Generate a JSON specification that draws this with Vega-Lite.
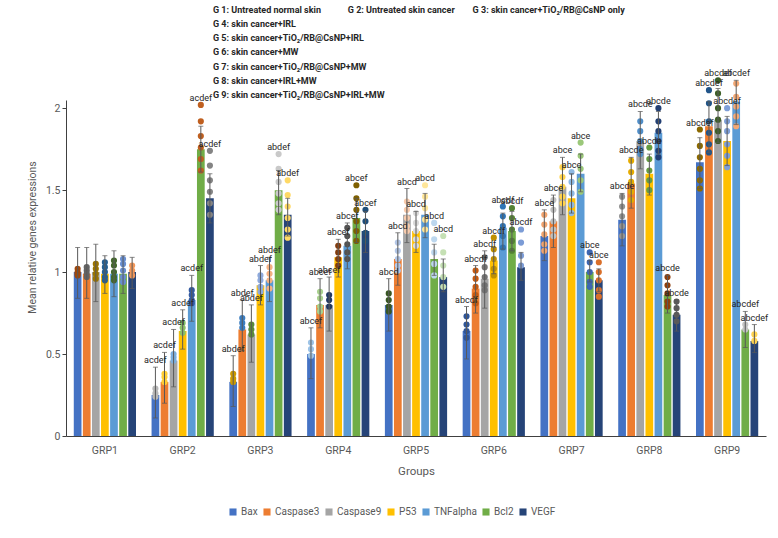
{
  "$schema": "https://vega.github.io/schema/vega-lite/v6.json",
  "autosize": {"type": "none"},
  "width": 700,
  "height": 336,
  "padding": {"left": 66, "top": 100, "right": 12, "bottom": 102},
  "background": "white",
  "title": {
    "text": [
      "G 1: Untreated normal skin\u00a0\u00a0\u00a0\u00a0\u00a0\u00a0\u00a0\u00a0\u00a0\u00a0\u00a0\u00a0G 2: Untreated skin cancer\u00a0\u00a0\u00a0\u00a0\u00a0\u00a0\u00a0\u00a0G 3: skin cancer+TiO₂/RB@CsNP only",
      "G 4: skin cancer+IRL",
      "G 5: skin cancer+TiO₂/RB@CsNP+IRL",
      "G 6: skin cancer+MW",
      "G 7: skin cancer+TiO₂/RB@CsNP+MW",
      "G 8: skin cancer+IRL+MW",
      "G 9: skin cancer+TiO₂/RB@CsNP+IRL+MW"
    ],
    "anchor": "start",
    "frame": "group",
    "dx": 147,
    "offset": -31,
    "lineHeight": 14.3,
    "font": "Roboto",
    "fontSize": 9,
    "fontWeight": "bold",
    "color": "#262626"
  },
  "config": {
    "view": {"stroke": null},
    "font": "Roboto"
  },
  "data": {
    "values": [
      {"g":"GRP1","k":"Bax","mean":1.00,"lo":0.84,"hi":1.15,"sig":""},
      {"g":"GRP1","k":"Caspase3","mean":0.99,"lo":0.84,"hi":1.15,"sig":""},
      {"g":"GRP1","k":"Caspase9","mean":1.00,"lo":0.82,"hi":1.17,"sig":""},
      {"g":"GRP1","k":"P53","mean":0.99,"lo":0.87,"hi":1.10,"sig":""},
      {"g":"GRP1","k":"TNFalpha","mean":0.99,"lo":0.85,"hi":1.13,"sig":""},
      {"g":"GRP1","k":"Bcl2","mean":0.99,"lo":0.87,"hi":1.10,"sig":""},
      {"g":"GRP1","k":"VEGF","mean":1.00,"lo":0.90,"hi":1.09,"sig":""},
      {"g":"GRP2","k":"Bax","mean":0.25,"lo":0.11,"hi":0.42,"sig":"acdef"},
      {"g":"GRP2","k":"Caspase3","mean":0.33,"lo":0.20,"hi":0.51,"sig":"acdef"},
      {"g":"GRP2","k":"Caspase9","mean":0.46,"lo":0.30,"hi":0.65,"sig":"acdef"},
      {"g":"GRP2","k":"P53","mean":0.64,"lo":0.53,"hi":0.77,"sig":"acdef"},
      {"g":"GRP2","k":"TNFalpha","mean":0.83,"lo":0.70,"hi":0.98,"sig":"acdef"},
      {"g":"GRP2","k":"Bcl2","mean":1.75,"lo":1.61,"hi":1.89,"sig":"acdef"},
      {"g":"GRP2","k":"VEGF","mean":1.45,"lo":1.30,"hi":1.60,"sig":"acdef"},
      {"g":"GRP3","k":"Bax","mean":0.33,"lo":0.18,"hi":0.49,"sig":"abdef"},
      {"g":"GRP3","k":"Caspase3","mean":0.65,"lo":0.52,"hi":0.83,"sig":"abdef"},
      {"g":"GRP3","k":"Caspase9","mean":0.62,"lo":0.45,"hi":0.80,"sig":"abdef"},
      {"g":"GRP3","k":"P53","mean":0.92,"lo":0.80,"hi":1.04,"sig":"abdef"},
      {"g":"GRP3","k":"TNFalpha","mean":0.95,"lo":0.82,"hi":1.09,"sig":"abdef"},
      {"g":"GRP3","k":"Bcl2","mean":1.50,"lo":1.35,"hi":1.62,"sig":"abdef"},
      {"g":"GRP3","k":"VEGF","mean":1.35,"lo":1.22,"hi":1.45,"sig":"abdef"},
      {"g":"GRP4","k":"Bax","mean":0.50,"lo":0.35,"hi":0.66,"sig":"abcef"},
      {"g":"GRP4","k":"Caspase3","mean":0.80,"lo":0.66,"hi":0.96,"sig":"abcef"},
      {"g":"GRP4","k":"Caspase9","mean":0.80,"lo":0.64,"hi":0.97,"sig":"abcef"},
      {"g":"GRP4","k":"P53","mean":1.09,"lo":0.97,"hi":1.20,"sig":"abcef"},
      {"g":"GRP4","k":"TNFalpha","mean":1.16,"lo":1.02,"hi":1.30,"sig":"abcef"},
      {"g":"GRP4","k":"Bcl2","mean":1.33,"lo":1.18,"hi":1.45,"sig":"abcef"},
      {"g":"GRP4","k":"VEGF","mean":1.25,"lo":1.12,"hi":1.37,"sig":"abcef"},
      {"g":"GRP5","k":"Bax","mean":0.80,"lo":0.64,"hi":0.96,"sig":"abcd"},
      {"g":"GRP5","k":"Caspase3","mean":1.08,"lo":0.92,"hi":1.24,"sig":"abcd"},
      {"g":"GRP5","k":"Caspase9","mean":1.35,"lo":1.18,"hi":1.51,"sig":"abcd"},
      {"g":"GRP5","k":"P53","mean":1.25,"lo":1.12,"hi":1.37,"sig":"abcd"},
      {"g":"GRP5","k":"TNFalpha","mean":1.35,"lo":1.21,"hi":1.48,"sig":"abcd"},
      {"g":"GRP5","k":"Bcl2","mean":1.08,"lo":0.98,"hi":1.17,"sig":"abcd"},
      {"g":"GRP5","k":"VEGF","mean":0.97,"lo":0.88,"hi":1.08,"sig":"abcd"},
      {"g":"GRP6","k":"Bax","mean":0.64,"lo":0.47,"hi":0.79,"sig":"abcdf"},
      {"g":"GRP6","k":"Caspase3","mean":0.90,"lo":0.75,"hi":1.04,"sig":"abcdf"},
      {"g":"GRP6","k":"Caspase9","mean":0.96,"lo":0.78,"hi":1.13,"sig":"abcdf"},
      {"g":"GRP6","k":"P53","mean":1.07,"lo":0.99,"hi":1.15,"sig":"abcdf"},
      {"g":"GRP6","k":"TNFalpha","mean":1.27,"lo":1.14,"hi":1.36,"sig":"abcdf"},
      {"g":"GRP6","k":"Bcl2","mean":1.25,"lo":1.13,"hi":1.37,"sig":"abcdf"},
      {"g":"GRP6","k":"VEGF","mean":1.03,"lo":0.95,"hi":1.12,"sig":"abcdf"},
      {"g":"GRP7","k":"Bax","mean":1.22,"lo":1.07,"hi":1.38,"sig":"abce"},
      {"g":"GRP7","k":"Caspase3","mean":1.31,"lo":1.15,"hi":1.47,"sig":"abce"},
      {"g":"GRP7","k":"Caspase9","mean":1.52,"lo":1.35,"hi":1.70,"sig":"abce"},
      {"g":"GRP7","k":"P53","mean":1.45,"lo":1.36,"hi":1.60,"sig":"abce"},
      {"g":"GRP7","k":"TNFalpha","mean":1.60,"lo":1.49,"hi":1.72,"sig":"abce"},
      {"g":"GRP7","k":"Bcl2","mean":1.00,"lo":0.94,"hi":1.07,"sig":"abce"},
      {"g":"GRP7","k":"VEGF","mean":0.95,"lo":0.88,"hi":1.02,"sig":"abce"},
      {"g":"GRP8","k":"Bax","mean":1.32,"lo":1.16,"hi":1.48,"sig":"abcde"},
      {"g":"GRP8","k":"Caspase3","mean":1.54,"lo":1.39,"hi":1.70,"sig":"abcde"},
      {"g":"GRP8","k":"Caspase9","mean":1.80,"lo":1.63,"hi":1.98,"sig":"abcde"},
      {"g":"GRP8","k":"P53","mean":1.60,"lo":1.47,"hi":1.72,"sig":"abcde"},
      {"g":"GRP8","k":"TNFalpha","mean":1.85,"lo":1.72,"hi":1.98,"sig":"abcde"},
      {"g":"GRP8","k":"Bcl2","mean":0.86,"lo":0.75,"hi":0.98,"sig":"abcde"},
      {"g":"GRP8","k":"VEGF","mean":0.74,"lo":0.64,"hi":0.83,"sig":"abcde"},
      {"g":"GRP9","k":"Bax","mean":1.67,"lo":1.51,"hi":1.82,"sig":"abcdef"},
      {"g":"GRP9","k":"Caspase3","mean":1.89,"lo":1.73,"hi":2.04,"sig":"abcdef"},
      {"g":"GRP9","k":"Caspase9","mean":1.93,"lo":1.79,"hi":2.12,"sig":"abcdef"},
      {"g":"GRP9","k":"P53","mean":1.80,"lo":1.65,"hi":1.95,"sig":"abcdef"},
      {"g":"GRP9","k":"TNFalpha","mean":2.04,"lo":1.90,"hi":2.17,"sig":"abcdef"},
      {"g":"GRP9","k":"Bcl2","mean":0.65,"lo":0.54,"hi":0.76,"sig":"abcdef"},
      {"g":"GRP9","k":"VEGF","mean":0.58,"lo":0.51,"hi":0.68,"sig":"abcdef"},

      {"g":"GRP1","k":"Bax","v":1.02},{"g":"GRP1","k":"Bax","v":1.00},{"g":"GRP1","k":"Bax","v":0.99},{"g":"GRP1","k":"Bax","v":0.98},
      {"g":"GRP1","k":"Caspase3","v":1.03},{"g":"GRP1","k":"Caspase3","v":1.01},{"g":"GRP1","k":"Caspase3","v":0.99},{"g":"GRP1","k":"Caspase3","v":0.97},
      {"g":"GRP1","k":"Caspase9","v":1.05},{"g":"GRP1","k":"Caspase9","v":1.02},{"g":"GRP1","k":"Caspase9","v":0.99},{"g":"GRP1","k":"Caspase9","v":0.96},
      {"g":"GRP1","k":"P53","v":1.06},{"g":"GRP1","k":"P53","v":1.03},{"g":"GRP1","k":"P53","v":1.00},{"g":"GRP1","k":"P53","v":0.97},{"g":"GRP1","k":"P53","v":0.95},
      {"g":"GRP1","k":"TNFalpha","v":1.07},{"g":"GRP1","k":"TNFalpha","v":1.04},{"g":"GRP1","k":"TNFalpha","v":1.00},{"g":"GRP1","k":"TNFalpha","v":0.97},{"g":"GRP1","k":"TNFalpha","v":0.95},
      {"g":"GRP1","k":"Bcl2","v":1.08},{"g":"GRP1","k":"Bcl2","v":1.05},{"g":"GRP1","k":"Bcl2","v":1.01},{"g":"GRP1","k":"Bcl2","v":0.97},{"g":"GRP1","k":"Bcl2","v":0.94},
      {"g":"GRP1","k":"VEGF","v":1.04},{"g":"GRP1","k":"VEGF","v":1.01},{"g":"GRP1","k":"VEGF","v":0.98},

      {"g":"GRP2","k":"Bax","v":0.29},{"g":"GRP2","k":"Bax","v":0.26},{"g":"GRP2","k":"Bax","v":0.24},
      {"g":"GRP2","k":"Caspase3","v":0.38},{"g":"GRP2","k":"Caspase3","v":0.36},{"g":"GRP2","k":"Caspase3","v":0.33},
      {"g":"GRP2","k":"Caspase9","v":0.50},{"g":"GRP2","k":"Caspase9","v":0.48},{"g":"GRP2","k":"Caspase9","v":0.46},
      {"g":"GRP2","k":"P53","v":0.69},{"g":"GRP2","k":"P53","v":0.66},{"g":"GRP2","k":"P53","v":0.63},
      {"g":"GRP2","k":"TNFalpha","v":0.89},{"g":"GRP2","k":"TNFalpha","v":0.86},{"g":"GRP2","k":"TNFalpha","v":0.83},{"g":"GRP2","k":"TNFalpha","v":0.81},
      {"g":"GRP2","k":"Bcl2","v":2.02},{"g":"GRP2","k":"Bcl2","v":1.92},{"g":"GRP2","k":"Bcl2","v":1.83},{"g":"GRP2","k":"Bcl2","v":1.76},{"g":"GRP2","k":"Bcl2","v":1.69},{"g":"GRP2","k":"Bcl2","v":1.62},
      {"g":"GRP2","k":"VEGF","v":1.74},{"g":"GRP2","k":"VEGF","v":1.65},{"g":"GRP2","k":"VEGF","v":1.56},{"g":"GRP2","k":"VEGF","v":1.49},{"g":"GRP2","k":"VEGF","v":1.42},{"g":"GRP2","k":"VEGF","v":1.35},

      {"g":"GRP3","k":"Bax","v":0.38},{"g":"GRP3","k":"Bax","v":0.35},{"g":"GRP3","k":"Bax","v":0.33},
      {"g":"GRP3","k":"Caspase3","v":0.72},{"g":"GRP3","k":"Caspase3","v":0.69},{"g":"GRP3","k":"Caspase3","v":0.66},
      {"g":"GRP3","k":"Caspase9","v":0.68},{"g":"GRP3","k":"Caspase9","v":0.65},{"g":"GRP3","k":"Caspase9","v":0.62},
      {"g":"GRP3","k":"P53","v":0.98},{"g":"GRP3","k":"P53","v":0.95},{"g":"GRP3","k":"P53","v":0.91},{"g":"GRP3","k":"P53","v":0.88},
      {"g":"GRP3","k":"TNFalpha","v":1.03},{"g":"GRP3","k":"TNFalpha","v":0.99},{"g":"GRP3","k":"TNFalpha","v":0.95},{"g":"GRP3","k":"TNFalpha","v":0.90},
      {"g":"GRP3","k":"Bcl2","v":1.72},{"g":"GRP3","k":"Bcl2","v":1.63},{"g":"GRP3","k":"Bcl2","v":1.55},{"g":"GRP3","k":"Bcl2","v":1.48},{"g":"GRP3","k":"Bcl2","v":1.42},{"g":"GRP3","k":"Bcl2","v":1.38},
      {"g":"GRP3","k":"VEGF","v":1.56},{"g":"GRP3","k":"VEGF","v":1.47},{"g":"GRP3","k":"VEGF","v":1.40},{"g":"GRP3","k":"VEGF","v":1.33},{"g":"GRP3","k":"VEGF","v":1.26},{"g":"GRP3","k":"VEGF","v":1.21},

      {"g":"GRP4","k":"Bax","v":0.57},{"g":"GRP4","k":"Bax","v":0.53},{"g":"GRP4","k":"Bax","v":0.49},
      {"g":"GRP4","k":"Caspase3","v":0.88},{"g":"GRP4","k":"Caspase3","v":0.84},{"g":"GRP4","k":"Caspase3","v":0.79},{"g":"GRP4","k":"Caspase3","v":0.76},
      {"g":"GRP4","k":"Caspase9","v":0.86},{"g":"GRP4","k":"Caspase9","v":0.83},{"g":"GRP4","k":"Caspase9","v":0.79},
      {"g":"GRP4","k":"P53","v":1.16},{"g":"GRP4","k":"P53","v":1.12},{"g":"GRP4","k":"P53","v":1.08},{"g":"GRP4","k":"P53","v":1.04},
      {"g":"GRP4","k":"TNFalpha","v":1.27},{"g":"GRP4","k":"TNFalpha","v":1.22},{"g":"GRP4","k":"TNFalpha","v":1.17},{"g":"GRP4","k":"TNFalpha","v":1.12},{"g":"GRP4","k":"TNFalpha","v":1.08},
      {"g":"GRP4","k":"Bcl2","v":1.53},{"g":"GRP4","k":"Bcl2","v":1.45},{"g":"GRP4","k":"Bcl2","v":1.38},{"g":"GRP4","k":"Bcl2","v":1.31},{"g":"GRP4","k":"Bcl2","v":1.25},{"g":"GRP4","k":"Bcl2","v":1.19},
      {"g":"GRP4","k":"VEGF","v":1.38},{"g":"GRP4","k":"VEGF","v":1.31},{"g":"GRP4","k":"VEGF","v":1.24},{"g":"GRP4","k":"VEGF","v":1.19},

      {"g":"GRP5","k":"Bax","v":0.87},{"g":"GRP5","k":"Bax","v":0.83},{"g":"GRP5","k":"Bax","v":0.79},{"g":"GRP5","k":"Bax","v":0.76},
      {"g":"GRP5","k":"Caspase3","v":1.18},{"g":"GRP5","k":"Caspase3","v":1.13},{"g":"GRP5","k":"Caspase3","v":1.08},{"g":"GRP5","k":"Caspase3","v":1.04},{"g":"GRP5","k":"Caspase3","v":1.01},
      {"g":"GRP5","k":"Caspase9","v":1.43},{"g":"GRP5","k":"Caspase9","v":1.38},{"g":"GRP5","k":"Caspase9","v":1.33},{"g":"GRP5","k":"Caspase9","v":1.28},{"g":"GRP5","k":"Caspase9","v":1.25},
      {"g":"GRP5","k":"P53","v":1.36},{"g":"GRP5","k":"P53","v":1.30},{"g":"GRP5","k":"P53","v":1.25},{"g":"GRP5","k":"P53","v":1.20},{"g":"GRP5","k":"P53","v":1.16},
      {"g":"GRP5","k":"TNFalpha","v":1.53},{"g":"GRP5","k":"TNFalpha","v":1.46},{"g":"GRP5","k":"TNFalpha","v":1.39},{"g":"GRP5","k":"TNFalpha","v":1.32},{"g":"GRP5","k":"TNFalpha","v":1.26},
      {"g":"GRP5","k":"Bcl2","v":1.30},{"g":"GRP5","k":"Bcl2","v":1.20},{"g":"GRP5","k":"Bcl2","v":1.12},{"g":"GRP5","k":"Bcl2","v":1.05},{"g":"GRP5","k":"Bcl2","v":0.98},
      {"g":"GRP5","k":"VEGF","v":1.22},{"g":"GRP5","k":"VEGF","v":1.12},{"g":"GRP5","k":"VEGF","v":1.04},{"g":"GRP5","k":"VEGF","v":0.97},{"g":"GRP5","k":"VEGF","v":0.91},

      {"g":"GRP6","k":"Bax","v":0.73},{"g":"GRP6","k":"Bax","v":0.68},{"g":"GRP6","k":"Bax","v":0.64},{"g":"GRP6","k":"Bax","v":0.60},
      {"g":"GRP6","k":"Caspase3","v":1.01},{"g":"GRP6","k":"Caspase3","v":0.96},{"g":"GRP6","k":"Caspase3","v":0.91},{"g":"GRP6","k":"Caspase3","v":0.86},{"g":"GRP6","k":"Caspase3","v":0.81},
      {"g":"GRP6","k":"Caspase9","v":1.09},{"g":"GRP6","k":"Caspase9","v":1.03},{"g":"GRP6","k":"Caspase9","v":0.97},{"g":"GRP6","k":"Caspase9","v":0.92},{"g":"GRP6","k":"Caspase9","v":0.89},
      {"g":"GRP6","k":"P53","v":1.21},{"g":"GRP6","k":"P53","v":1.14},{"g":"GRP6","k":"P53","v":1.08},{"g":"GRP6","k":"P53","v":1.02},{"g":"GRP6","k":"P53","v":0.98},
      {"g":"GRP6","k":"TNFalpha","v":1.40},{"g":"GRP6","k":"TNFalpha","v":1.34},{"g":"GRP6","k":"TNFalpha","v":1.28},{"g":"GRP6","k":"TNFalpha","v":1.22},{"g":"GRP6","k":"TNFalpha","v":1.15},
      {"g":"GRP6","k":"Bcl2","v":1.39},{"g":"GRP6","k":"Bcl2","v":1.33},{"g":"GRP6","k":"Bcl2","v":1.26},{"g":"GRP6","k":"Bcl2","v":1.19},{"g":"GRP6","k":"Bcl2","v":1.13},
      {"g":"GRP6","k":"VEGF","v":1.26},{"g":"GRP6","k":"VEGF","v":1.18},{"g":"GRP6","k":"VEGF","v":1.10},{"g":"GRP6","k":"VEGF","v":1.04},

      {"g":"GRP7","k":"Bax","v":1.35},{"g":"GRP7","k":"Bax","v":1.29},{"g":"GRP7","k":"Bax","v":1.23},{"g":"GRP7","k":"Bax","v":1.17},{"g":"GRP7","k":"Bax","v":1.13},
      {"g":"GRP7","k":"Caspase3","v":1.44},{"g":"GRP7","k":"Caspase3","v":1.38},{"g":"GRP7","k":"Caspase3","v":1.31},{"g":"GRP7","k":"Caspase3","v":1.26},{"g":"GRP7","k":"Caspase3","v":1.22},
      {"g":"GRP7","k":"Caspase9","v":1.64},{"g":"GRP7","k":"Caspase9","v":1.58},{"g":"GRP7","k":"Caspase9","v":1.52},{"g":"GRP7","k":"Caspase9","v":1.46},{"g":"GRP7","k":"Caspase9","v":1.42},
      {"g":"GRP7","k":"P53","v":1.61},{"g":"GRP7","k":"P53","v":1.55},{"g":"GRP7","k":"P53","v":1.48},{"g":"GRP7","k":"P53","v":1.41},{"g":"GRP7","k":"P53","v":1.36},
      {"g":"GRP7","k":"TNFalpha","v":1.79},{"g":"GRP7","k":"TNFalpha","v":1.71},{"g":"GRP7","k":"TNFalpha","v":1.63},{"g":"GRP7","k":"TNFalpha","v":1.56},{"g":"GRP7","k":"TNFalpha","v":1.49},
      {"g":"GRP7","k":"Bcl2","v":1.12},{"g":"GRP7","k":"Bcl2","v":1.06},{"g":"GRP7","k":"Bcl2","v":1.00},{"g":"GRP7","k":"Bcl2","v":0.94},{"g":"GRP7","k":"Bcl2","v":0.91},
      {"g":"GRP7","k":"VEGF","v":1.06},{"g":"GRP7","k":"VEGF","v":1.00},{"g":"GRP7","k":"VEGF","v":0.95},{"g":"GRP7","k":"VEGF","v":0.89},{"g":"GRP7","k":"VEGF","v":0.85},

      {"g":"GRP8","k":"Bax","v":1.46},{"g":"GRP8","k":"Bax","v":1.40},{"g":"GRP8","k":"Bax","v":1.34},{"g":"GRP8","k":"Bax","v":1.28},{"g":"GRP8","k":"Bax","v":1.22},
      {"g":"GRP8","k":"Caspase3","v":1.68},{"g":"GRP8","k":"Caspase3","v":1.61},{"g":"GRP8","k":"Caspase3","v":1.55},{"g":"GRP8","k":"Caspase3","v":1.49},{"g":"GRP8","k":"Caspase3","v":1.44},
      {"g":"GRP8","k":"Caspase9","v":1.92},{"g":"GRP8","k":"Caspase9","v":1.86},{"g":"GRP8","k":"Caspase9","v":1.80},{"g":"GRP8","k":"Caspase9","v":1.75},{"g":"GRP8","k":"Caspase9","v":1.72},
      {"g":"GRP8","k":"P53","v":1.76},{"g":"GRP8","k":"P53","v":1.69},{"g":"GRP8","k":"P53","v":1.62},{"g":"GRP8","k":"P53","v":1.56},{"g":"GRP8","k":"P53","v":1.50},
      {"g":"GRP8","k":"TNFalpha","v":2.00},{"g":"GRP8","k":"TNFalpha","v":1.92},{"g":"GRP8","k":"TNFalpha","v":1.86},{"g":"GRP8","k":"TNFalpha","v":1.80},{"g":"GRP8","k":"TNFalpha","v":1.74},{"g":"GRP8","k":"TNFalpha","v":1.70},
      {"g":"GRP8","k":"Bcl2","v":0.97},{"g":"GRP8","k":"Bcl2","v":0.92},{"g":"GRP8","k":"Bcl2","v":0.87},{"g":"GRP8","k":"Bcl2","v":0.82},{"g":"GRP8","k":"Bcl2","v":0.79},
      {"g":"GRP8","k":"VEGF","v":0.82},{"g":"GRP8","k":"VEGF","v":0.78},{"g":"GRP8","k":"VEGF","v":0.74},{"g":"GRP8","k":"VEGF","v":0.70},

      {"g":"GRP9","k":"Bax","v":1.87},{"g":"GRP9","k":"Bax","v":1.77},{"g":"GRP9","k":"Bax","v":1.70},{"g":"GRP9","k":"Bax","v":1.63},{"g":"GRP9","k":"Bax","v":1.56},{"g":"GRP9","k":"Bax","v":1.51},
      {"g":"GRP9","k":"Caspase3","v":2.11},{"g":"GRP9","k":"Caspase3","v":2.03},{"g":"GRP9","k":"Caspase3","v":1.92},{"g":"GRP9","k":"Caspase3","v":1.85},{"g":"GRP9","k":"Caspase3","v":1.78},{"g":"GRP9","k":"Caspase3","v":1.73},
      {"g":"GRP9","k":"Caspase9","v":2.17},{"g":"GRP9","k":"Caspase9","v":2.09},{"g":"GRP9","k":"Caspase9","v":2.00},{"g":"GRP9","k":"Caspase9","v":1.93},{"g":"GRP9","k":"Caspase9","v":1.86},{"g":"GRP9","k":"Caspase9","v":1.80},
      {"g":"GRP9","k":"P53","v":2.00},{"g":"GRP9","k":"P53","v":1.92},{"g":"GRP9","k":"P53","v":1.86},{"g":"GRP9","k":"P53","v":1.78},{"g":"GRP9","k":"P53","v":1.71},{"g":"GRP9","k":"P53","v":1.64},
      {"g":"GRP9","k":"TNFalpha","v":2.15},{"g":"GRP9","k":"TNFalpha","v":2.07},{"g":"GRP9","k":"TNFalpha","v":2.01},{"g":"GRP9","k":"TNFalpha","v":1.95},{"g":"GRP9","k":"TNFalpha","v":1.89},
      {"g":"GRP9","k":"Bcl2","v":0.68},{"g":"GRP9","k":"Bcl2","v":0.65},
      {"g":"GRP9","k":"VEGF","v":0.62},{"g":"GRP9","k":"VEGF","v":0.58}
    ]
  },
  "encoding": {
    "x": {
      "field": "g",
      "type": "nominal",
      "title": "Groups",
      "scale": {"paddingInner": 0.2, "paddingOuter": 0.1},
      "axis": {
        "labelAngle": 0,
        "labelFont": "Roboto",
        "labelFontSize": 10.5,
        "labelColor": "#595959",
        "labelPadding": 9,
        "ticks": false,
        "domainColor": "#404040",
        "titleFont": "Roboto",
        "titleFontSize": 11.5,
        "titleFontWeight": "normal",
        "titleColor": "#595959",
        "titlePadding": 10
      }
    },
    "xOffset": {
      "field": "k",
      "type": "nominal",
      "sort": ["Bax","Caspase3","Caspase9","P53","TNFalpha","Bcl2","VEGF"],
      "scale": {"paddingInner": 0.15, "paddingOuter": 0}
    }
  },
  "layer": [
    {
      "transform": [{"filter": "isValid(datum.mean)"}],
      "mark": {"type": "bar"},
      "encoding": {
        "y": {
          "field": "mean",
          "type": "quantitative",
          "title": "Mean relative genes expressions",
          "scale": {"domain": [0, 2.05], "nice": false},
          "axis": {
            "values": [0, 0.5, 1, 1.5, 2],
            "labelExpr": "datum.value + ''",
            "grid": false,
            "tickSize": 4,
            "tickColor": "#404040",
            "domainColor": "#404040",
            "labelFont": "Roboto",
            "labelFontSize": 10.5,
            "labelColor": "#595959",
            "titleFont": "Roboto",
            "titleFontSize": 10.5,
            "titleFontWeight": "normal",
            "titleColor": "#595959",
            "titleX": -29,
            "titleY": 137
          }
        },
        "color": {
          "field": "k",
          "type": "nominal",
          "sort": ["Bax","Caspase3","Caspase9","P53","TNFalpha","Bcl2","VEGF"],
          "scale": {
            "domain": ["Bax","Caspase3","Caspase9","P53","TNFalpha","Bcl2","VEGF"],
            "range": ["#4472C4","#ED7D31","#A5A5A5","#FFC000","#5B9BD5","#70AD47","#264478"]
          },
          "legend": {
            "title": null,
            "orient": "none",
            "legendX": 162,
            "legendY": 407,
            "direction": "horizontal",
            "symbolType": "square",
            "symbolSize": 50,
            "symbolStrokeWidth": 0,
            "labelFont": "Roboto",
            "labelFontSize": 10,
            "labelColor": "#595959",
            "labelOffset": 3,
            "columnPadding": 4
          }
        }
      }
    },
    {
      "transform": [
        {"filter": "isValid(datum.v)"},
        {"calculate": "datum.g + '|' + datum.k", "as": "key"}
      ],
      "mark": {"type": "circle", "opacity": 1, "size": 38},
      "encoding": {
        "y": {"field": "v", "type": "quantitative"},
        "color": {
          "field": "key",
          "type": "nominal",
          "legend": null,
          "scale": {
            "domain": [
              "GRP1|Bax","GRP1|Caspase3","GRP1|Caspase9","GRP1|P53","GRP1|TNFalpha","GRP1|Bcl2","GRP1|VEGF",
              "GRP2|Bax","GRP2|Caspase3","GRP2|Caspase9","GRP2|P53","GRP2|TNFalpha","GRP2|Bcl2","GRP2|VEGF",
              "GRP3|Bax","GRP3|Caspase3","GRP3|Caspase9","GRP3|P53","GRP3|TNFalpha","GRP3|Bcl2","GRP3|VEGF",
              "GRP4|Bax","GRP4|Caspase3","GRP4|Caspase9","GRP4|P53","GRP4|TNFalpha","GRP4|Bcl2","GRP4|VEGF",
              "GRP5|Bax","GRP5|Caspase3","GRP5|Caspase9","GRP5|P53","GRP5|TNFalpha","GRP5|Bcl2","GRP5|VEGF",
              "GRP6|Bax","GRP6|Caspase3","GRP6|Caspase9","GRP6|P53","GRP6|TNFalpha","GRP6|Bcl2","GRP6|VEGF",
              "GRP7|Bax","GRP7|Caspase3","GRP7|Caspase9","GRP7|P53","GRP7|TNFalpha","GRP7|Bcl2","GRP7|VEGF",
              "GRP8|Bax","GRP8|Caspase3","GRP8|Caspase9","GRP8|P53","GRP8|TNFalpha","GRP8|Bcl2","GRP8|VEGF",
              "GRP9|Bax","GRP9|Caspase3","GRP9|Caspase9","GRP9|P53","GRP9|TNFalpha","GRP9|Bcl2","GRP9|VEGF"
            ],
            "range": [
              "#9E480E","#636363","#997300","#255E91","#43682B","#698ED0","#F1975A",
              "#B7B7B7","#FFCD33","#7CAFDD","#8CC168","#335AA1","#BF5F1F","#848484",
              "#CC9A00","#3B7DC0","#5A8A39","#8FAADC","#F4B183","#C9C9C9","#FFD966",
              "#9DC3E6","#A9D18E","#203864","#843C0C","#525252","#7F6000","#1F4E79",
              "#385723","#B4C7E7","#F8CBAD","#DBDBDB","#FFE699","#BDD7EE","#C5E0B4",
              "#2F5597","#C55A11","#737373","#BF9000","#2E75B6","#548235","#7C9CD6",
              "#F2A46F","#C0C0C0","#FFD34D","#8CB9E2","#9BC87A","#3D66B0","#D96F2A",
              "#949494","#E6AC00","#4F8EC9","#659C40","#223F73","#8E3F0C","#5A5A5A",
              "#8C6900","#215589","#3D5F27","#7F9FD8","#F3A875","#C3C3C3","#FFD451"
            ]
          }
        }
      }
    },
    {
      "transform": [{"filter": "isValid(datum.mean)"}],
      "mark": {"type": "rule", "color": "#595959", "strokeWidth": 1},
      "encoding": {
        "y": {"field": "lo", "type": "quantitative"},
        "y2": {"field": "hi"}
      }
    },
    {
      "transform": [{"filter": "isValid(datum.mean)"}],
      "mark": {"type": "tick", "color": "#595959", "thickness": 1, "size": 5},
      "encoding": {
        "y": {"field": "hi", "type": "quantitative"}
      }
    },
    {
      "transform": [{"filter": "isValid(datum.mean)"}],
      "mark": {"type": "tick", "color": "#595959", "thickness": 1, "size": 5},
      "encoding": {
        "y": {"field": "lo", "type": "quantitative"}
      }
    },
    {
      "transform": [
        {"joinaggregate": [{"op": "max", "field": "v", "as": "dmax"}], "groupby": ["g", "k"]},
        {"filter": "isValid(datum.mean) && datum.sig != ''"},
        {"calculate": "max(datum.dmax, datum.hi)", "as": "top"}
      ],
      "mark": {
        "type": "text",
        "baseline": "bottom",
        "dy": -2,
        "font": "Roboto",
        "fontSize": 9,
        "color": "#262626"
      },
      "encoding": {
        "y": {"field": "top", "type": "quantitative"},
        "text": {"field": "sig"}
      }
    }
  ],
  "resolve": {"scale": {"color": "independent"}}
}
